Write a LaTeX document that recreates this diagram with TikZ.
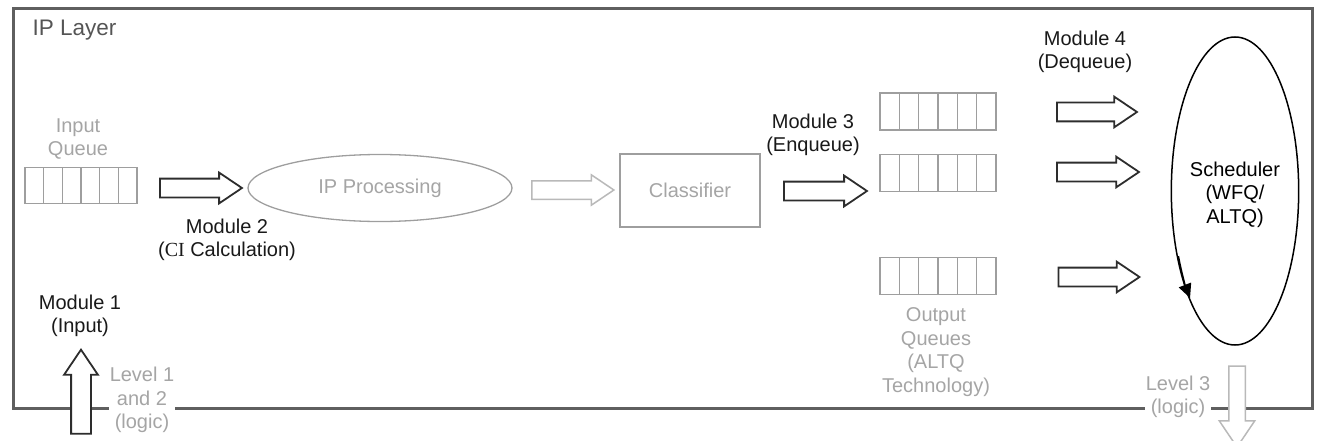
\documentclass[tikz,border=0pt]{standalone}
\usepackage{fontspec}
\setmainfont{Liberation Sans}
\newfontfamily\serifci{Liberation Serif}
\usepackage{tikz}
\usetikzlibrary{shapes.geometric,shapes.arrows,arrows.meta,calc}
\definecolor{framegray}{RGB}{95,95,95}
\definecolor{layergray}{RGB}{85,85,85}
\definecolor{softtext}{RGB}{165,165,165}
\definecolor{boxgray}{RGB}{158,158,158}
\definecolor{darkarrow}{RGB}{45,45,45}
\definecolor{softarrow}{RGB}{185,185,185}

\tikzset{
  every node/.style={font=\fontsize{20}{23.5}\selectfont},
  softlabel/.style={text=softtext, align=center},
  modlabel/.style={text=black!90, align=center},
  cell/.style={draw=boxgray, line width=1.3pt, inner sep=0pt, minimum width=#1, minimum height=36pt},
  bigarrow/.style={single arrow, draw=darkarrow, fill=white, line width=1.8pt, inner sep=0pt,
    text height=17pt, text depth=0pt, single arrow head extend=6pt, single arrow tip angle=68},
  softbigarrow/.style={bigarrow, draw=softarrow, line width=1.5pt},
}

\begin{document}
\begin{tikzpicture}[x=1pt, y=-1pt]
\useasboundingbox (0,0) rectangle (1319,441);

% Frame
\draw[framegray, line width=3pt] (13,9) rectangle (1312,408);
\node[text=layergray, anchor=west, font=\fontsize{22.5}{26}\selectfont] (iplayer) at (29,30) {IP Layer};

% Input queue
\node[softlabel] (inlabel) at (78,139) {Input\\Queue};
\foreach \i in {0,...,5}
  \node[cell=18.67pt] (in\i) at ({25+18.67*(\i+0.5)},185.5) {};

% Processing chain
\node[bigarrow, minimum height=82pt] (arr1) at (194,188) {};
\node[ellipse, draw=boxgray, line width=1.3pt, minimum width=264pt, minimum height=67pt,
  text=softtext] (ipproc) at (380,188) {IP Processing};
\node[softbigarrow, minimum height=82pt] (arr2) at (566,190) {};
\node[draw=boxgray, line width=1.3pt, minimum width=140pt, minimum height=73pt,
  text=softtext] (classifier) at (690,190.5) {Classifier};
\node[bigarrow, minimum height=83pt] (arr3) at (818.5,191) {};

% Output queues
\foreach \q/\y in {a/111.5, b/173, c/276}
  \foreach \i in {0,...,5}
    \node[cell=19.33pt, minimum height=37pt] (out\q\i) at ({880+19.33*(\i+0.5)},\y) {};
\node[softlabel] (outlabel) at (936,352) {Output\\Queues\\(ALTQ\\Technology)};

% Dequeue arrows
\node[bigarrow, minimum height=80pt] (deqa) at (1090,112) {};
\node[bigarrow, minimum height=82pt] (deqb) at (1091,172) {};
\node[bigarrow, minimum height=81pt] (deqc) at (1092,277) {};

% Scheduler
\node[ellipse, draw=black, line width=1.5pt, inner sep=0pt, minimum width=125pt, minimum height=308pt,
  align=center] (sched) at (1235,191) {\\[-2pt]Scheduler\\(WFQ/\\ALTQ)};
\draw[black, line width=1.5pt, -{Triangle[length=14pt, width=13pt]}]
  ($(sched.center)+(155:62.5 and 154)$) arc[start angle=155, end angle=136, x radius=62.5, y radius=154];

% Level arrows
\node[bigarrow, rotate=90, text height=18pt, single arrow head extend=7pt, minimum height=84pt] (upin) at (81,399) {};
\node[softbigarrow, rotate=-90, text height=15pt, single arrow head extend=9.5pt, minimum height=81pt] (downout) at (1237,400.5) {};
\node[softlabel, fill=white, inner sep=1pt] (lev12) at (142,400) {Level 1\\and 2\\(logic)};
\node[softlabel, fill=white, inner sep=1pt] (lev3) at (1178,397) {Level 3\\(logic)};

% Module labels
\node[modlabel] (mod1) at (80,316) {Module 1\\(Input)};
\node[modlabel] (mod2) at (227,240) {Module 2\\({\serifci CI} Calculation)};
\node[modlabel] (mod3) at (813,135) {Module 3\\(Enqueue)};
\node[modlabel] (mod4) at (1085,52) {Module 4\\(Dequeue)};
\end{tikzpicture}
\end{document}
